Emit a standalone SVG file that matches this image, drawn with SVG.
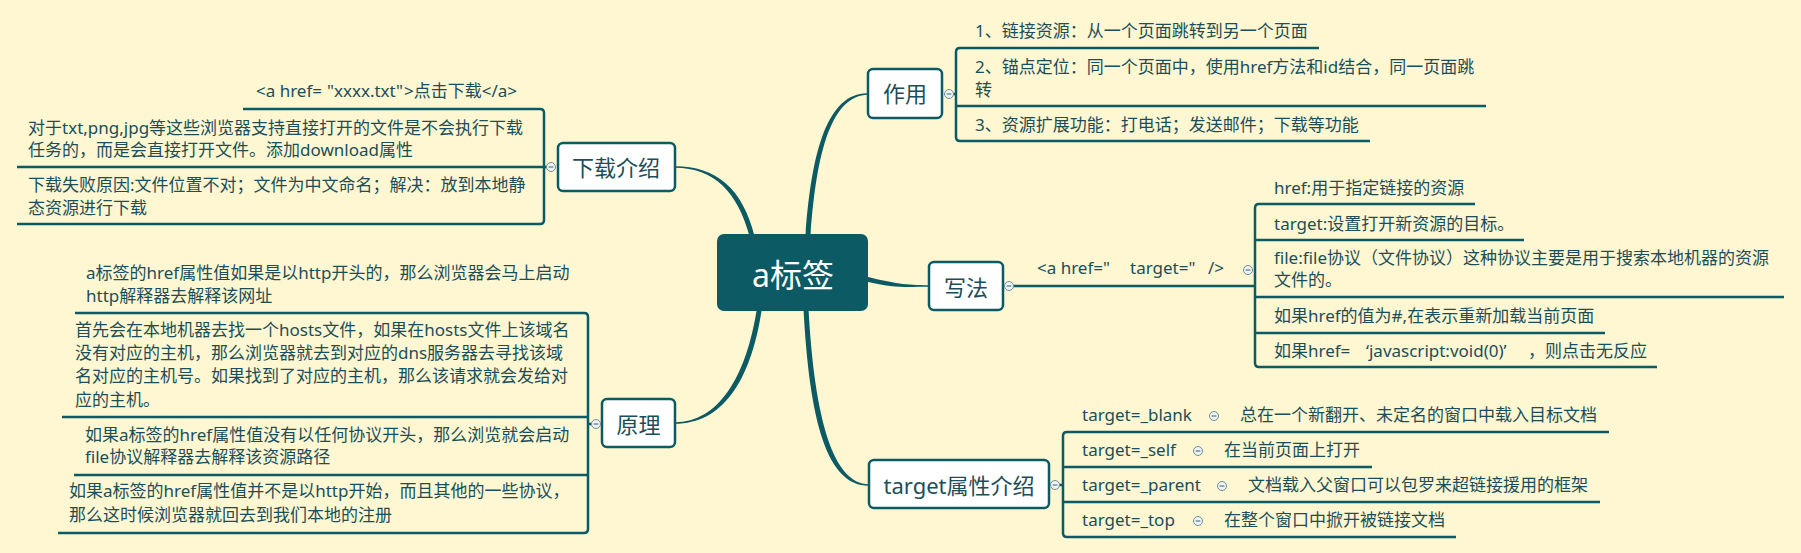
<svg xmlns="http://www.w3.org/2000/svg" width="1801" height="553" viewBox="0 0 1801 553">
<style>
text{font-family:"Noto Sans","Noto Sans CJK SC",sans-serif;fill:#1b4e58}
.leaf{font-size:17px}
.br{font-size:22px;text-anchor:middle}
.ctr{font-size:32px;text-anchor:middle;fill:#ffffff}
.box{fill:#ffffff;stroke:#0c5a63;stroke-width:2.5}
.ln{fill:none;stroke:#0c5a63;stroke-width:2.5;stroke-linecap:butt}
.tap{fill:#0c5a63}
.cb{fill:#eef3f4;stroke:#6f8e99;stroke-width:1}
.cm{stroke:#3f5f6a;stroke-width:1}
</style>
<defs>
<g id="col"><circle class="cb" cx="0" cy="0" r="4.5"/><line class="cm" x1="-2.3" y1="0" x2="2.3" y2="0"/></g>
</defs>
<rect x="0" y="0" width="1801" height="553" fill="#fef7d2"/>
<g id="connectors">
<path class="tap" d="M 805.5 236 C 811.5 150, 828 92.5, 868 93.2 L 868 94.8 C 832 95.5, 816.5 150, 810.5 236 Z"/>
<path class="tap" d="M 866 276.5 C 895 283.5, 905 285.2, 929 285.2 L 929 286.8 C 905 286.8, 895 288.5, 866 281.5 Z"/>
<path class="tap" d="M 803.5 309 C 809.5 422, 827 485.8, 869 485.8 L 869 484.2 C 833 484.2, 814.5 418, 808.5 309 Z"/>
<path class="tap" d="M 754.5 236 C 742.5 188, 716 166.2, 675 166.2 L 675 167.8 C 714 167.8, 737.5 192, 749.5 236 Z"/>
<path class="tap" d="M 761.5 311 C 750.5 382, 722 423.8, 675 423.8 L 675 422.2 C 718 422.2, 745.5 378, 756.5 311 Z"/>
<path class="ln" d="M 243 109 L 540 109 Q 544 109 544 113 L 544 220 Q 544 224 540 224 L 17 224"/>
<path class="ln" d="M 17 167 L 547 167"/>
<path class="ln" d="M 75 313 L 584 313 Q 588 313 588 317 L 588 529 Q 588 533 584 533 L 58 533"/>
<path class="ln" d="M 62 417 L 588 417"/>
<path class="ln" d="M 74 475 L 588 475"/>
<path class="ln" d="M 588 424 L 592 424"/>
<path class="ln" d="M 1319 48 L 960 48 Q 956 48 956 52 L 956 137 Q 956 141 960 141 L 1370 141"/>
<path class="ln" d="M 956 106 L 1486 106"/>
<path class="ln" d="M 953 94 L 956 94"/>
<path class="ln" d="M 1013 286 L 1255 286"/>
<path class="ln" d="M 1475 204 L 1259 204 Q 1255 204 1255 208 L 1255 363 Q 1255 367 1259 367 L 1657 367"/>
<path class="ln" d="M 1255 240 L 1524 240"/>
<path class="ln" d="M 1255 297 L 1784 297"/>
<path class="ln" d="M 1255 333 L 1605 333"/>
<path class="ln" d="M 1609 432 L 1067 432 Q 1063 432 1063 436 L 1063 533 Q 1063 537 1067 537 L 1456 537"/>
<path class="ln" d="M 1063 467 L 1372 467"/>
<path class="ln" d="M 1063 502 L 1600 502"/>
<path class="ln" d="M 1059 485 L 1063 485"/>
</g>
<g id="center">
<rect x="717" y="234" width="151" height="77" rx="7" fill="#0c5a63"/>
<text class="ctr" x="793" y="286.5">a标签</text>
</g>
<g id="zuoyong">
<rect class="box" x="868" y="69" width="74" height="49" rx="5"/>
<text class="br" x="905" y="102">作用</text>
<use href="#col" x="949" y="94"/>
</g>
<g id="zuoyong-1"><text class="leaf" x="975" y="37">1、链接资源：从一个页面跳转到另一个页面</text></g>
<g id="zuoyong-2"><text class="leaf" x="975" y="73">2、锚点定位：同一个页面中，使用href方法和id结合，同一页面跳</text><text class="leaf" x="975" y="96">转</text></g>
<g id="zuoyong-3"><text class="leaf" x="975" y="131">3、资源扩展功能：打电话；发送邮件；下载等功能</text></g>
<g id="xiefa">
<rect class="box" x="929" y="262" width="74" height="48" rx="5"/>
<text class="br" x="966" y="295.5">写法</text>
<use href="#col" x="1009" y="286"/>
</g>
<g id="xiefa-a">
<text class="leaf" x="1037" y="274">&lt;a href="<tspan x="1130">target="</tspan><tspan x="1208">/&gt;</tspan></text>
<use href="#col" x="1248" y="270"/>
</g>
<g id="xiefa-1"><text class="leaf" x="1274" y="194">href:用于指定链接的资源</text></g>
<g id="xiefa-2"><text class="leaf" x="1274" y="230">target:设置打开新资源的目标。</text></g>
<g id="xiefa-3"><text class="leaf" x="1274" y="264">file:file协议（文件协议）这种协议主要是用于搜索本地机器的资源</text><text class="leaf" x="1274" y="286">文件的。</text></g>
<g id="xiefa-4"><text class="leaf" x="1274" y="322">如果href的值为#,在表示重新加载当前页面</text></g>
<g id="xiefa-5"><text class="leaf" x="1274" y="357">如果href=<tspan x="1366">‘javascript:void(0)’</tspan><tspan x="1528">，则点击无反应</tspan></text></g>
<g id="target">
<rect class="box" x="869" y="460" width="180" height="48" rx="5"/>
<text class="br" x="959" y="494">target属性介绍</text>
<use href="#col" x="1055" y="485"/>
</g>
<g id="target-blank"><text class="leaf" x="1082" y="421">target=_blank</text><use href="#col" x="1214" y="416"/><text class="leaf" x="1240" y="421">总在一个新翻开、未定名的窗口中载入目标文档</text></g>
<g id="target-self"><text class="leaf" x="1082" y="456">target=_self</text><use href="#col" x="1198" y="451"/><text class="leaf" x="1224" y="456">在当前页面上打开</text></g>
<g id="target-parent"><text class="leaf" x="1082" y="491">target=_parent</text><use href="#col" x="1222" y="486"/><text class="leaf" x="1248" y="491">文档载入父窗口可以包罗来超链接援用的框架</text></g>
<g id="target-top"><text class="leaf" x="1082" y="526">target=_top</text><use href="#col" x="1198" y="521"/><text class="leaf" x="1224" y="526">在整个窗口中掀开被链接文档</text></g>
<g id="xiazai">
<rect class="box" x="558" y="143" width="117" height="48" rx="5"/>
<text class="br" x="616" y="176">下载介绍</text>
<use href="#col" x="551" y="167"/>
</g>
<g id="xiazai-1"><text class="leaf" x="256" y="97">&lt;a href=<tspan x="327">"xxxx.txt"</tspan><tspan x="404">&gt;点击下载&lt;/a&gt;</tspan></text></g>
<g id="xiazai-2"><text class="leaf" x="28" y="134">对于txt,png,jpg等这些浏览器支持直接打开的文件是不会执行下载</text><text class="leaf" x="28" y="156">任务的，而是会直接打开文件。添加download属性</text></g>
<g id="xiazai-3"><text class="leaf" x="28" y="191">下载失败原因:文件位置不对；文件为中文命名；解决：放到本地静</text><text class="leaf" x="28" y="214">态资源进行下载</text></g>
<g id="yuanli">
<rect class="box" x="602" y="399" width="73" height="48" rx="5"/>
<text class="br" x="638.5" y="432.5">原理</text>
<use href="#col" x="596" y="424"/>
</g>
<g id="yuanli-1"><text class="leaf" x="86" y="279">a标签的href属性值如果是以http开头的，那么浏览器会马上启动</text><text class="leaf" x="86" y="302">http解释器去解释该网址</text></g>
<g id="yuanli-2"><text class="leaf" x="75" y="336">首先会在本地机器去找一个hosts文件，如果在hosts文件上该域名</text><text class="leaf" x="75" y="359">没有对应的主机，那么浏览器就去到对应的dns服务器去寻找该域</text><text class="leaf" x="75" y="382">名对应的主机号。如果找到了对应的主机，那么该请求就会发给对</text><text class="leaf" x="75" y="406">应的主机。</text></g>
<g id="yuanli-3"><text class="leaf" x="85" y="441">如果a标签的href属性值没有以任何协议开头，那么浏览就会启动</text><text class="leaf" x="85" y="463">file协议解释器去解释该资源路径</text></g>
<g id="yuanli-4"><text class="leaf" x="69" y="497">如果a标签的href属性值并不是以http开始，而且其他的一些协议，</text><text class="leaf" x="69" y="521">那么这时候浏览器就回去到我们本地的注册</text></g>
</svg>
